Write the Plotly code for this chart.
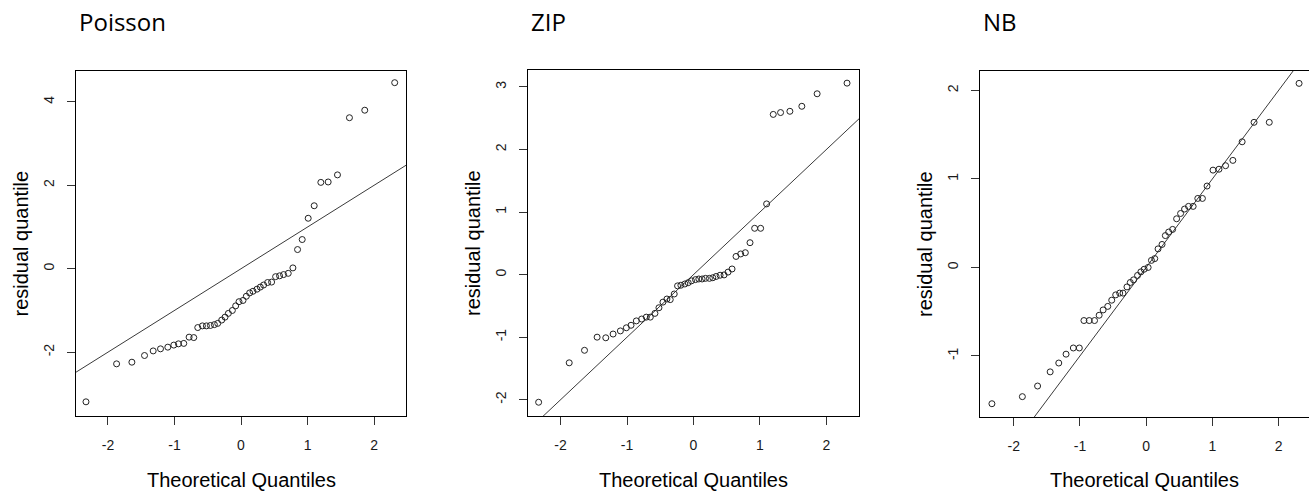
import plotly.graph_objects as go

# ---------------- data ----------------
theoretical_q = [-2.33, -1.87, -1.64, -1.45, -1.32, -1.21, -1.10, -1.01, -0.94, -0.86,
                 -0.78, -0.71, -0.65, -0.58, -0.52, -0.46, -0.40, -0.35, -0.29, -0.24,
                 -0.19, -0.13, -0.08, -0.03, 0.03, 0.08, 0.13, 0.18, 0.24, 0.29,
                 0.34, 0.40, 0.46, 0.52, 0.58, 0.64, 0.71, 0.78, 0.85, 0.92,
                 1.01, 1.10, 1.20, 1.31, 1.45, 1.63, 1.86, 2.31]

poisson_resid = [-3.19, -2.28, -2.24, -2.08, -1.97, -1.92, -1.88, -1.83, -1.80, -1.79,
                 -1.64, -1.65, -1.41, -1.37, -1.37, -1.36, -1.34, -1.31, -1.23, -1.16,
                 -1.07, -1.00, -0.89, -0.79, -0.76, -0.66, -0.58, -0.54, -0.49, -0.44,
                 -0.39, -0.33, -0.32, -0.19, -0.17, -0.14, -0.11, 0.02, 0.46, 0.70,
                 1.21, 1.51, 2.07, 2.08, 2.25, 3.62, 3.80, 4.46]

zip_resid = [-2.04, -1.41, -1.21, -1.00, -1.01, -0.95, -0.90, -0.85, -0.81, -0.74,
             -0.71, -0.68, -0.68, -0.62, -0.53, -0.44, -0.39, -0.40, -0.31, -0.18,
             -0.17, -0.15, -0.13, -0.10, -0.08, -0.07, -0.07, -0.06, -0.06, -0.05,
             -0.03, -0.01, -0.005, 0.04, 0.09, 0.29, 0.33, 0.35, 0.51, 0.74,
             0.74, 1.13, 2.56, 2.59, 2.61, 2.69, 2.89, 3.06]

nb_resid = [-1.54, -1.46, -1.34, -1.18, -1.08, -0.98, -0.91, -0.91, -0.60, -0.60,
            -0.60, -0.54, -0.48, -0.44, -0.37, -0.31, -0.29, -0.29, -0.22, -0.17,
            -0.14, -0.09, -0.05, -0.02, 0.00, 0.08, 0.10, 0.21, 0.26, 0.36,
            0.40, 0.43, 0.55, 0.61, 0.66, 0.69, 0.69, 0.78, 0.78, 0.92,
            1.10, 1.11, 1.15, 1.21, 1.42, 1.64, 1.64, 2.08]

panel_titles = ["Poisson", "ZIP", "NB"]
x_tick_vals = [-2, -1, 0, 1, 2]
x_tick_text = ["-2", "-1", "0", "1", "2"]
y_tick_vals = [[-2, 0, 2, 4], [-2, -1, 0, 1, 2, 3], [-1, 0, 1, 2]]
y_tick_text = [["-2", "0", "2", "4"], ["-2", "-1", "0", "1", "2", "3"], ["-1", "0", "1", "2"]]
ref_slope = 1.0
ref_intercept = 0.0

# ---------------- layout geometry ----------------
W, H = 1309, 492
panels_px = [  # left, right, top, bottom (pixels)
    (76, 406, 71, 416),
    (528, 859, 70, 416),
    (980, 1309, 71, 417),
]
x_ranges = [[-2.48, 2.48], [-2.49, 2.49], [-2.51, 2.46]]
y_ranges = [[-3.53, 4.74], [-2.26, 3.27], [-1.69, 2.22]]

series = [poisson_resid, zip_resid, nb_resid]

fig = go.Figure()
axis_font = dict(family="Liberation Sans, Arial, sans-serif", size=14, color="#1a1a1a")

for i in range(3):
    l, r, t, b = panels_px[i]
    sfx = "" if i == 0 else str(i + 1)
    xa, ya = "x" + sfx, "y" + sfx
    # reference line across the visible range
    lx = x_ranges[i]
    fig.add_trace(go.Scatter(
        x=lx, y=[ref_intercept + ref_slope * v for v in lx],
        mode="lines", line=dict(color="#3a3a3a", width=1),
        xaxis=xa, yaxis=ya, showlegend=False, hoverinfo="skip"))
    fig.add_trace(go.Scatter(
        x=theoretical_q, y=series[i], mode="markers",
        marker=dict(symbol="circle-open", size=6, color="#222222",
                    line=dict(width=1, color="#222222")),
        xaxis=xa, yaxis=ya, showlegend=False))

    xd = [l / W, r / W]
    yd = [(H - b) / H, (H - t) / H]
    fig.layout["xaxis" + sfx] = dict(
        domain=xd, range=x_ranges[i], anchor=ya,
        tickmode="array", tickvals=x_tick_vals, ticktext=x_tick_text,
        ticks="outside", ticklen=8, tickwidth=1, tickcolor="#333",
        showline=True, linecolor="black", linewidth=1, mirror=True,
        showgrid=False, zeroline=False, tickfont=axis_font,
        ticklabelstandoff=8, automargin=False, fixedrange=True)
    fig.layout["yaxis" + sfx] = dict(
        domain=yd, range=y_ranges[i], anchor=xa,
        tickmode="array", tickvals=y_tick_vals[i], ticktext=y_tick_text[i],
        tickangle=-90,
        ticks="outside", ticklen=8, tickwidth=1, tickcolor="#333",
        showline=True, linecolor="black", linewidth=1,
        mirror=(i < 2),
        showgrid=False, zeroline=False, tickfont=axis_font,
        ticklabelstandoff=7, automargin=False, fixedrange=True)

    # panel title
    fig.add_annotation(text=panel_titles[i], xref="paper", yref="paper",
                       x=(l + 1) / W, y=1 - 21 / H, xanchor="left", yanchor="middle",
                       showarrow=False,
                       font=dict(family="Open Sans, Noto Sans, sans-serif", size=24, color="black"))
    # x-axis title
    fig.add_annotation(text="Theoretical Quantiles", xref="paper", yref="paper",
                       x=((l + min(r, l + 331)) / 2) / W, y=1 - 480 / H,
                       xanchor="center", yanchor="middle", showarrow=False,
                       font=dict(family="Liberation Sans, Arial, sans-serif", size=20, color="black"))
    # y-axis title
    fig.add_annotation(text="residual quantile", xref="paper", yref="paper",
                       x=(l - 55) / W, y=1 - ((t + b) / 2) / H,
                       xanchor="center", yanchor="middle", textangle=-90, showarrow=False,
                       font=dict(family="Liberation Sans, Arial, sans-serif", size=20, color="black"))

fig.update_layout(
    width=W, height=H,
    margin=dict(l=0, r=0, t=0, b=0),
    paper_bgcolor="white", plot_bgcolor="white",
    showlegend=False,
)

fig.write_html("out.html",
               config={"displayModeBar": False},
               post_script="document.body.style.margin='0';document.body.style.overflow='hidden';")
